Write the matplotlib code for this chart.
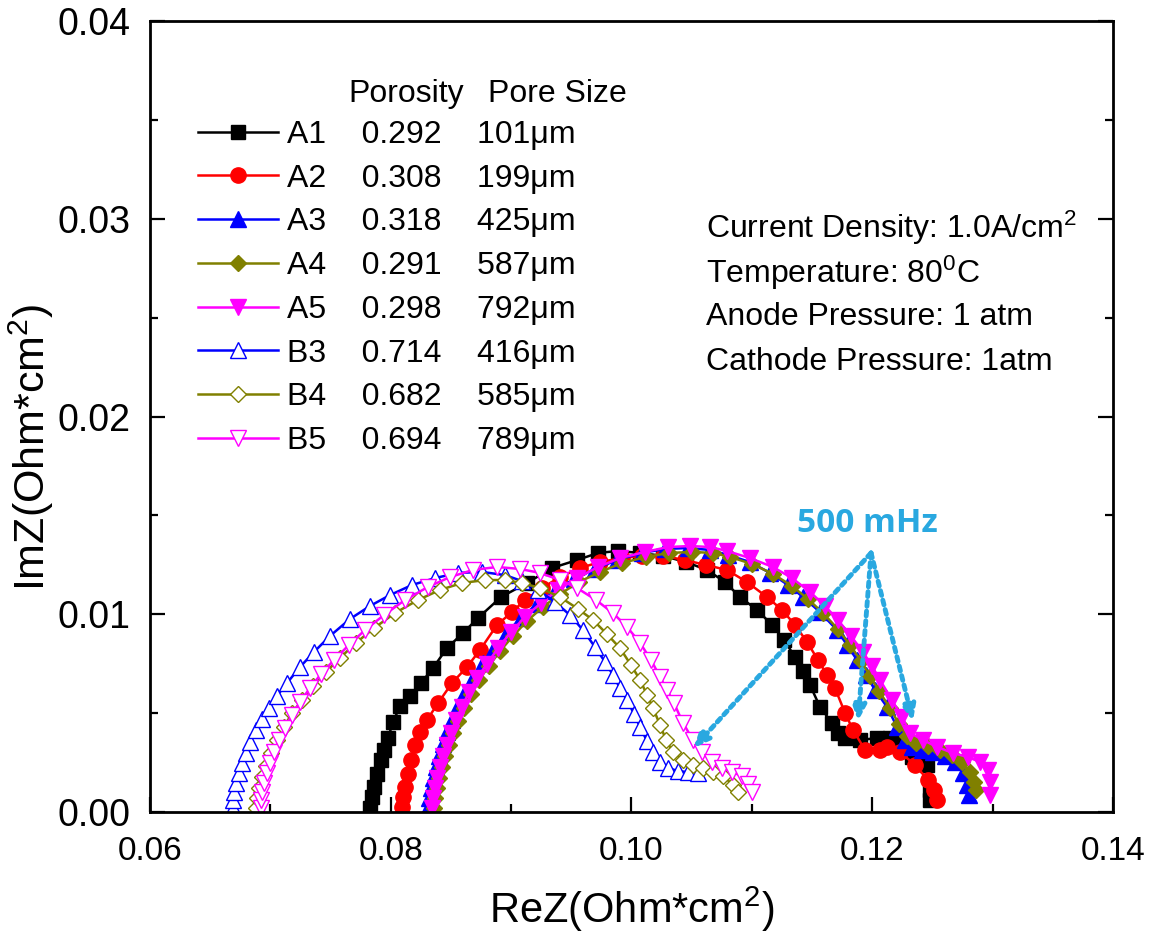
import matplotlib
matplotlib.use("Agg")
import matplotlib.pyplot as plt
from matplotlib.ticker import MultipleLocator, FormatStrFormatter

plt.rcParams['font.family'] = ['Liberation Sans', 'DejaVu Sans']
plt.rcParams['mathtext.fontset'] = 'custom'
plt.rcParams['mathtext.rm'] = 'Liberation Sans'
plt.rcParams['mathtext.it'] = 'Liberation Sans:italic'
plt.rcParams['mathtext.bf'] = 'Liberation Sans:bold'

# Nyquist data, ReZ / ImZ in Ohm*cm^2
a1_re = [0.07828, 0.07844, 0.07861, 0.07886, 0.07919, 0.07944, 0.07977, 0.08019, 0.08077, 0.08160,
         0.08251, 0.08351, 0.08467, 0.08600, 0.08725, 0.08916, 0.09132, 0.09340, 0.09547, 0.09722,
         0.09888, 0.10071, 0.10262, 0.10453, 0.10627, 0.10777, 0.10901, 0.11043, 0.11167, 0.11267,
         0.11358, 0.11425, 0.11483, 0.11566, 0.11666, 0.11715, 0.11774, 0.11898, 0.12040, 0.12147,
         0.12231, 0.12330, 0.12455, 0.12480, 0.12480]
a1_im = [0.00020, 0.00076, 0.00126, 0.00192, 0.00263, 0.00314, 0.00374, 0.00455, 0.00536, 0.00587,
         0.00652, 0.00728, 0.00829, 0.00905, 0.00981, 0.01087, 0.01158, 0.01234, 0.01274, 0.01310,
         0.01320, 0.01310, 0.01295, 0.01264, 0.01224, 0.01163, 0.01087, 0.01022, 0.00946, 0.00870,
         0.00784, 0.00713, 0.00642, 0.00531, 0.00450, 0.00400, 0.00374, 0.00364, 0.00374, 0.00374,
         0.00354, 0.00278, 0.00238, 0.00111, 0.00061]

a2_re = [0.08093, 0.08102, 0.08118, 0.08143, 0.08168, 0.08201, 0.08243, 0.08301, 0.08393, 0.08509,
         0.08633, 0.08741, 0.08883, 0.09007, 0.09115, 0.09257, 0.09406, 0.09572, 0.09738, 0.09921,
         0.10087, 0.10262, 0.10444, 0.10619, 0.10793, 0.10959, 0.11126, 0.11250, 0.11358, 0.11458,
         0.11549, 0.11624, 0.11690, 0.11774, 0.11840, 0.11940, 0.12064, 0.12123, 0.12231, 0.12355,
         0.12463, 0.12513, 0.12538]
a2_im = [0.00025, 0.00076, 0.00126, 0.00192, 0.00263, 0.00339, 0.00405, 0.00465, 0.00551, 0.00652,
         0.00733, 0.00819, 0.00946, 0.01011, 0.01072, 0.01133, 0.01188, 0.01234, 0.01264, 0.01284,
         0.01295, 0.01295, 0.01274, 0.01249, 0.01224, 0.01163, 0.01087, 0.01022, 0.00946, 0.00860,
         0.00769, 0.00693, 0.00627, 0.00501, 0.00415, 0.00314, 0.00314, 0.00329, 0.00303, 0.00238,
         0.00162, 0.00111, 0.00061]

a3_re = [0.08309, 0.08318, 0.08334, 0.08351, 0.08376, 0.08401, 0.08434, 0.08467, 0.08509, 0.08559,
         0.08617, 0.08683, 0.08766, 0.08858, 0.08966, 0.09082, 0.09215, 0.09364, 0.09522, 0.09697,
         0.09879, 0.10087, 0.10278, 0.10469, 0.10652, 0.10802, 0.10984, 0.11151, 0.11300, 0.11425,
         0.11566, 0.11707, 0.11790, 0.11873, 0.11948, 0.12023, 0.12123, 0.12206, 0.12272, 0.12330,
         0.12413, 0.12505, 0.12604, 0.12687, 0.12754, 0.12787, 0.12804]
a3_im = [0.00020, 0.00071, 0.00121, 0.00172, 0.00228, 0.00283, 0.00344, 0.00405, 0.00465, 0.00536,
         0.00607, 0.00678, 0.00753, 0.00829, 0.00910, 0.00981, 0.01052, 0.01118, 0.01178, 0.01229,
         0.01274, 0.01310, 0.01330, 0.01335, 0.01325, 0.01300, 0.01264, 0.01209, 0.01148, 0.01087,
         0.01011, 0.00920, 0.00845, 0.00769, 0.00693, 0.00617, 0.00531, 0.00430, 0.00364, 0.00329,
         0.00314, 0.00303, 0.00283, 0.00253, 0.00197, 0.00137, 0.00086]

a4_re = [0.08359, 0.08368, 0.08384, 0.08401, 0.08426, 0.08451, 0.08484, 0.08517, 0.08559, 0.08608,
         0.08667, 0.08733, 0.08816, 0.08908, 0.09016, 0.09132, 0.09265, 0.09406, 0.09564, 0.09738,
         0.09921, 0.10121, 0.10312, 0.10503, 0.10677, 0.10818, 0.11001, 0.11175, 0.11333, 0.11466,
         0.11591, 0.11715, 0.11815, 0.11906, 0.11981, 0.12056, 0.12147, 0.12222, 0.12289, 0.12364,
         0.12463, 0.12563, 0.12663, 0.12745, 0.12812, 0.12845, 0.12862]
a4_im = [0.00020, 0.00071, 0.00121, 0.00172, 0.00228, 0.00283, 0.00339, 0.00400, 0.00460, 0.00526,
         0.00597, 0.00668, 0.00738, 0.00814, 0.00890, 0.00966, 0.01037, 0.01102, 0.01163, 0.01214,
         0.01259, 0.01290, 0.01310, 0.01315, 0.01310, 0.01290, 0.01254, 0.01204, 0.01143, 0.01077,
         0.01006, 0.00925, 0.00845, 0.00764, 0.00688, 0.00612, 0.00526, 0.00445, 0.00384, 0.00349,
         0.00334, 0.00314, 0.00288, 0.00253, 0.00202, 0.00152, 0.00111]

a5_re = [0.08343, 0.08351, 0.08368, 0.08384, 0.08409, 0.08434, 0.08467, 0.08500, 0.08542, 0.08592,
         0.08650, 0.08716, 0.08800, 0.08891, 0.08999, 0.09115, 0.09248, 0.09389, 0.09547, 0.09722,
         0.09904, 0.10112, 0.10303, 0.10486, 0.10652, 0.10793, 0.10984, 0.11175, 0.11333, 0.11483,
         0.11607, 0.11715, 0.11823, 0.11923, 0.11998, 0.12064, 0.12164, 0.12247, 0.12314, 0.12422,
         0.12538, 0.12671, 0.12795, 0.12895, 0.12961, 0.12978, 0.12978]
a5_im = [0.00020, 0.00071, 0.00121, 0.00172, 0.00228, 0.00283, 0.00339, 0.00400, 0.00465, 0.00531,
         0.00607, 0.00678, 0.00748, 0.00829, 0.00910, 0.00986, 0.01057, 0.01123, 0.01183, 0.01239,
         0.01284, 0.01315, 0.01340, 0.01345, 0.01340, 0.01320, 0.01284, 0.01239, 0.01183, 0.01113,
         0.01042, 0.00971, 0.00890, 0.00809, 0.00738, 0.00668, 0.00566, 0.00480, 0.00400, 0.00364,
         0.00329, 0.00298, 0.00278, 0.00253, 0.00212, 0.00152, 0.00086]

b3_re = [0.06690, 0.06690, 0.06698, 0.06714, 0.06739, 0.06764, 0.06798, 0.06831, 0.06881, 0.06930,
         0.06989, 0.07055, 0.07138, 0.07246, 0.07362, 0.07495, 0.07661, 0.07828, 0.07994, 0.08177,
         0.08368, 0.08559, 0.08758, 0.08949, 0.09090, 0.09223, 0.09364, 0.09489, 0.09597, 0.09697,
         0.09780, 0.09846, 0.09904, 0.09963, 0.10021, 0.10071, 0.10129, 0.10179, 0.10237, 0.10303,
         0.10386, 0.10469, 0.10552]
b3_im = [0.00020, 0.00061, 0.00101, 0.00147, 0.00197, 0.00248, 0.00298, 0.00354, 0.00415, 0.00470,
         0.00526, 0.00587, 0.00652, 0.00733, 0.00809, 0.00890, 0.00976, 0.01042, 0.01097, 0.01148,
         0.01183, 0.01209, 0.01214, 0.01198, 0.01168, 0.01123, 0.01062, 0.00996, 0.00920, 0.00834,
         0.00759, 0.00693, 0.00627, 0.00566, 0.00496, 0.00430, 0.00359, 0.00303, 0.00253, 0.00223,
         0.00207, 0.00202, 0.00197]

b4_re = [0.06881, 0.06889, 0.06906, 0.06930, 0.06964, 0.07005, 0.07055, 0.07113, 0.07180, 0.07263,
         0.07354, 0.07462, 0.07578, 0.07711, 0.07861, 0.08035, 0.08226, 0.08409, 0.08592, 0.08783,
         0.08949, 0.09090, 0.09240, 0.09406, 0.09556, 0.09680, 0.09796, 0.09904, 0.09996, 0.10071,
         0.10129, 0.10179, 0.10237, 0.10287, 0.10345, 0.10428, 0.10511, 0.10594, 0.10677, 0.10760,
         0.10843, 0.10885]
b4_im = [0.00020, 0.00071, 0.00121, 0.00177, 0.00233, 0.00298, 0.00364, 0.00430, 0.00501, 0.00566,
         0.00637, 0.00708, 0.00779, 0.00855, 0.00930, 0.01006, 0.01072, 0.01123, 0.01158, 0.01173,
         0.01173, 0.01158, 0.01133, 0.01087, 0.01027, 0.00971, 0.00900, 0.00829, 0.00743, 0.00668,
         0.00592, 0.00526, 0.00440, 0.00364, 0.00303, 0.00263, 0.00238, 0.00223, 0.00202, 0.00182,
         0.00137, 0.00101]

b5_re = [0.06922, 0.06922, 0.06930, 0.06947, 0.06972, 0.06997, 0.07030, 0.07072, 0.07121, 0.07180,
         0.07246, 0.07329, 0.07421, 0.07529, 0.07653, 0.07786, 0.07944, 0.08118, 0.08309, 0.08492,
         0.08683, 0.08883, 0.09074, 0.09240, 0.09406, 0.09547, 0.09705, 0.09846, 0.09963, 0.10071,
         0.10162, 0.10237, 0.10295, 0.10353, 0.10428, 0.10511, 0.10586, 0.10669, 0.10752, 0.10835,
         0.10918, 0.10968, 0.11001]
b5_im = [0.00020, 0.00061, 0.00101, 0.00147, 0.00197, 0.00248, 0.00303, 0.00364, 0.00425, 0.00491,
         0.00556, 0.00627, 0.00698, 0.00769, 0.00845, 0.00920, 0.00996, 0.01072, 0.01138, 0.01188,
         0.01224, 0.01239, 0.01229, 0.01209, 0.01173, 0.01133, 0.01072, 0.01006, 0.00936, 0.00855,
         0.00769, 0.00683, 0.00617, 0.00551, 0.00450, 0.00364, 0.00303, 0.00253, 0.00223, 0.00202,
         0.00182, 0.00142, 0.00101]

samples = ['A1', 'A2', 'A3', 'A4', 'A5', 'B3', 'B4', 'B5']
porosity = ['0.292', '0.308', '0.318', '0.291', '0.298', '0.714', '0.682', '0.694']
pore_size = [101, 199, 425, 587, 792, 416, 585, 789]
re_data = [a1_re, a2_re, a3_re, a4_re, a5_re, b3_re, b4_re, b5_re]
im_data = [a1_im, a2_im, a3_im, a4_im, a5_im, b3_im, b4_im, b5_im]

conditions = ['Current Density: 1.0A/cm$^2$', 'Temperature: 80$^0$C',
              'Anode Pressure: 1 atm', 'Cathode Pressure: 1atm']

# 500 mHz points pointed at by the arrows
freq_label = '500 mHz'
freq_text_pos = (0.1196, 0.01461)
arrow_apex = (0.1199, 0.01310)
arrow_tips = [(0.10516, 0.00324), (0.11882, 0.00460), (0.12338, 0.00460)]

colors = ['black', '#ff0000', '#0000ff', '#808000', '#ff00ff', '#0000ff', '#808000', '#ff00ff']
markers = ['s', 'o', '^', 'D', 'v', '^', 'D', 'v']
sizes = [9.5, 11, 11.5, 8.5, 11.5, 11.5, 8.5, 11.5]
hollow = [False] * 5 + [True] * 3

fig = plt.figure(figsize=(11.54, 9.36), dpi=100)
ax = fig.add_axes([150 / 1154, 1 - 812 / 936, 963 / 1154, 791 / 936])

for name, por, ps, xr, yi, c, m, s, h in zip(samples, porosity, pore_size, re_data, im_data,
                                            colors, markers, sizes, hollow):
    label = f'{name}    {por}    {ps}\u03bcm'
    ax.plot(xr, yi, '-', color=c, lw=1.8, marker=m, ms=s,
            mfc='white' if h else c, mec=c, mew=1.0, label=label)

ax.set_xlim(0.06, 0.14)
ax.set_ylim(0.0, 0.04)
ax.xaxis.set_major_locator(MultipleLocator(0.02))
ax.xaxis.set_minor_locator(MultipleLocator(0.01))
ax.yaxis.set_major_locator(MultipleLocator(0.01))
ax.yaxis.set_minor_locator(MultipleLocator(0.005))
ax.xaxis.set_major_formatter(FormatStrFormatter('%.2f'))
ax.yaxis.set_major_formatter(FormatStrFormatter('%.2f'))
ax.tick_params(which='both', direction='in', width=1.6, top=False, right=True)
ax.tick_params(which='major', length=11)
ax.tick_params(which='minor', length=6)
ax.tick_params(axis='x', labelsize=24, pad=17)
ax.tick_params(axis='y', labelsize=27, pad=14)
for sp in ax.spines.values():
    sp.set_linewidth(2)

ax.set_xlabel('ReZ(Ohm*cm$^2$)', fontsize=30)
ax.set_ylabel('ImZ(Ohm*cm$^2$)', fontsize=31)
ax.xaxis.set_label_coords(0.5, -0.092)
ax.yaxis.set_label_coords(-0.0976, 0.461)

leg = ax.legend(loc='upper left', bbox_to_anchor=(0.0498, 0.875), frameon=False,
                fontsize=23, handlelength=2.5, handletextpad=0.3, labelspacing=0.43,
                borderpad=0, borderaxespad=0, numpoints=1)
ax.text(0.2056, 0.908, 'Porosity', transform=ax.transAxes, fontsize=23, va='center')
ax.text(0.351, 0.908, 'Pore Size', transform=ax.transAxes, fontsize=23, va='center')

for i, line in enumerate(conditions):
    ax.text(0.5774, 0.7383 - i * 0.0563, line, transform=ax.transAxes, fontsize=23, va='center')

arrow_color = '#29a8e0'
ax.text(freq_text_pos[0], freq_text_pos[1], freq_label, color=arrow_color, fontsize=24,
        fontweight='bold', family=['Open Sans', 'DejaVu Sans'], ha='center', va='center')
for tip in arrow_tips:
    ax.annotate('', xy=tip, xytext=arrow_apex,
                arrowprops=dict(arrowstyle='-|>,head_length=0.9,head_width=0.4',
                                color=arrow_color, lw=3.5, linestyle=(0, (1, 1)),
                                shrinkA=0, shrinkB=0))

fig.savefig('out.png', dpi=100)
